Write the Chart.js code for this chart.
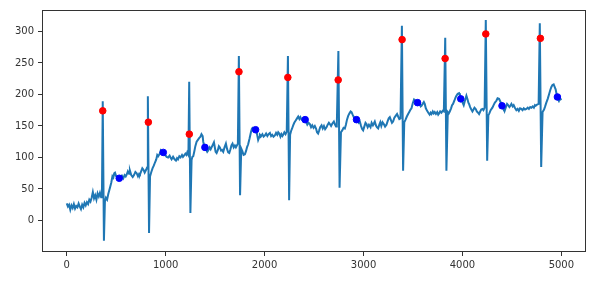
<!DOCTYPE html>
<html lang="en">
<head>
  <meta charset="UTF-8" />
  <title>Signal with peaks</title>
  <script src="https://cdn.jsdelivr.net/npm/chart.js"></script>
  <style>
    body {
      margin: 0;
      background: #fff;
    }
    #chart {
      display: block;
    }
  </style>
</head>
<body>
  <canvas id="chart" width="598" height="285"></canvas>

  <script>
    // signal: [sample index, value]
    const signal = [
      [0, 27], [12, 22], [24, 25], [36, 17], [48, 24], [60, 20], [72, 26], [84, 19], [96, 23], [108, 21],
      [120, 27], [132, 22], [144, 18], [156, 25], [168, 21], [180, 28], [192, 24], [204, 29], [216, 26], [228, 33],
      [240, 30], [252, 36], [264, 45], [276, 35], [288, 40], [300, 33], [312, 43], [324, 38], [336, 44], [348, 37], [356, 42],
      [364, 189], [376, -32], [386, 30], [396, 36], [408, 33], [420, 42], [437, 52], [450, 60], [462, 70], [471, 68],
      [480, 75], [488, 76], [500, 70], [511, 69], [520, 66], [531, 67], [545, 68], [558, 71], [572, 67], [585, 72],
      [596, 70], [606, 73], [618, 78], [630, 74], [639, 79], [652, 72], [667, 69], [680, 72], [694, 77], [707, 75],
      [720, 70], [732, 74], [740, 73], [752, 78], [764, 83], [774, 81], [788, 76], [801, 80], [812, 84],
      [820, 197], [832, -20], [842, 70], [855, 77], [868, 83], [880, 87], [892, 92], [905, 97], [915, 104], [925, 102],
      [940, 106], [950, 111], [959, 109], [968, 107], [976, 108], [990, 104], [1000, 103], [1010, 101], [1025, 100], [1040, 103],
      [1052, 99], [1060, 97], [1075, 101], [1090, 97], [1104, 95], [1115, 99], [1125, 97], [1138, 102], [1150, 100], [1165, 104],
      [1175, 101], [1185, 103], [1200, 106], [1210, 104], [1218, 108], [1230, 104],
      [1238, 220], [1250, 12], [1262, 96], [1270, 101], [1279, 102], [1290, 110], [1300, 118], [1313, 125], [1326, 128], [1340, 131],
      [1352, 133], [1362, 137], [1374, 134], [1380, 125], [1390, 118], [1397, 116], [1410, 112], [1420, 109], [1430, 111], [1445, 116],
      [1455, 113], [1464, 116], [1476, 120], [1488, 124], [1498, 115], [1505, 109], [1515, 107], [1528, 112], [1538, 118], [1548, 116],
      [1560, 111], [1570, 112], [1582, 109], [1595, 116], [1609, 122], [1620, 114], [1632, 108], [1643, 107], [1655, 113], [1665, 119],
      [1676, 122], [1688, 116], [1700, 119], [1710, 116], [1720, 119], [1730, 122],
      [1740, 261], [1752, 40], [1764, 114], [1775, 110], [1788, 104], [1801, 105], [1812, 110], [1822, 116], [1834, 121], [1848, 130],
      [1862, 140], [1872, 146], [1879, 147], [1890, 145], [1900, 142], [1909, 144], [1920, 140], [1935, 128], [1945, 132], [1953, 136],
      [1965, 134], [1978, 137], [1990, 133], [2003, 135], [2015, 138], [2028, 134], [2040, 137], [2054, 139], [2066, 134], [2078, 136],
      [2090, 133], [2104, 135], [2116, 139], [2128, 136], [2138, 140], [2148, 138], [2160, 133], [2170, 137], [2180, 134], [2188, 136],
      [2200, 140], [2212, 137], [2224, 141],
      [2236, 261], [2248, 32], [2258, 136], [2268, 142], [2278, 146], [2289, 151], [2300, 155], [2316, 159], [2328, 162], [2340, 165],
      [2352, 161], [2362, 164], [2375, 160], [2390, 158], [2400, 161], [2410, 160], [2420, 157], [2432, 152], [2445, 155], [2458, 153],
      [2470, 148], [2482, 151], [2495, 147], [2508, 150], [2520, 146], [2530, 140], [2541, 138], [2552, 143], [2562, 148], [2576, 151],
      [2588, 146], [2600, 150], [2612, 145], [2626, 148], [2638, 152], [2650, 155], [2660, 153], [2672, 150], [2685, 154], [2700, 157],
      [2712, 152], [2722, 149], [2730, 151],
      [2746, 269], [2758, 52], [2772, 140], [2785, 143], [2798, 147], [2811, 146], [2822, 152], [2833, 160], [2845, 166], [2858, 170],
      [2870, 173], [2879, 172], [2890, 168], [2902, 164], [2915, 162], [2929, 160], [2940, 158], [2952, 155], [2963, 157], [2975, 150],
      [2986, 145], [2996, 143], [3008, 149], [3020, 155], [3030, 153], [3042, 148], [3055, 152], [3071, 148], [3082, 155], [3095, 151],
      [3105, 154], [3114, 157], [3125, 151], [3135, 148], [3148, 146], [3160, 152], [3170, 156], [3180, 150], [3192, 156], [3205, 153],
      [3218, 149], [3232, 152], [3245, 158], [3255, 162], [3266, 164], [3278, 159], [3288, 155], [3299, 157], [3312, 163], [3325, 166],
      [3339, 169], [3350, 165], [3362, 161], [3374, 162],
      [3388, 309], [3400, 79], [3412, 156], [3425, 160], [3438, 165], [3451, 169], [3465, 173], [3475, 176], [3485, 178], [3498, 186],
      [3511, 192], [3525, 190], [3541, 187], [3555, 184], [3568, 186], [3578, 181], [3586, 182], [3598, 185], [3610, 188], [3619, 185],
      [3630, 178], [3643, 174], [3655, 171], [3668, 168], [3678, 171], [3687, 169], [3700, 173], [3710, 170], [3720, 172], [3732, 169],
      [3745, 172], [3755, 168], [3764, 170], [3775, 173], [3788, 171], [3800, 174], [3812, 173],
      [3826, 290], [3838, 79], [3852, 172], [3862, 170], [3872, 173], [3885, 178], [3895, 183], [3905, 185], [3918, 190], [3930, 195],
      [3939, 198], [3952, 201], [3966, 202], [3975, 198], [3983, 193], [3995, 190], [4005, 186], [4013, 183], [4025, 190], [4040, 198],
      [4052, 192], [4060, 187], [4067, 185], [4078, 180], [4090, 176], [4101, 173], [4112, 176], [4122, 179], [4134, 177], [4145, 173],
      [4158, 171], [4168, 169], [4180, 173], [4190, 176], [4202, 177], [4212, 175], [4224, 179],
      [4236, 318], [4250, 95], [4262, 167], [4272, 170], [4285, 175], [4303, 179], [4315, 183], [4328, 187], [4343, 190], [4355, 194],
      [4370, 193], [4385, 188], [4397, 183], [4410, 178], [4420, 175], [4427, 174], [4440, 180], [4451, 185], [4462, 183], [4475, 180],
      [4485, 182], [4495, 185], [4508, 181], [4518, 183], [4530, 179], [4545, 175], [4558, 177], [4570, 174], [4582, 178], [4596, 177],
      [4608, 175], [4620, 178], [4633, 176], [4646, 177], [4660, 179], [4672, 177], [4685, 180], [4697, 179], [4710, 181], [4722, 179],
      [4733, 183], [4741, 182], [4755, 184], [4770, 185],
      [4782, 313], [4796, 85], [4810, 172], [4825, 176], [4836, 181], [4848, 187], [4862, 193], [4875, 200], [4888, 207], [4899, 212],
      [4910, 215], [4922, 216], [4932, 212], [4942, 208], [4950, 202], [4956, 196], [4965, 193], [4976, 190], [4987, 194], [4999, 191]
    ];

    // red markers (R peaks)
    const peakX = [364, 825, 1239, 1741, 2235, 2744, 3390, 3825, 4236, 4788];
    const peakY = [174, 156, 137, 236, 227, 223, 287, 257, 296, 289];

    // blue markers
    const markX = [531, 976, 1397, 1909, 2410, 2929, 3546, 3983, 4400, 4960];
    const markY = [67, 108, 116, 144, 160, 160, 187, 193, 182, 196];

    const xTicks = [0, 1000, 2000, 3000, 4000, 5000];
    const yTicks = [0, 50, 100, 150, 200, 250, 300];

    const toPoints = (xs, ys) => xs.map((x, i) => ({ x: x, y: ys[i] }));

    // plain box around the plot area, like matplotlib spines
    const frame = {
      id: "frame",
      afterDraw(chart) {
        const a = chart.chartArea;
        const ctx = chart.ctx;
        ctx.save();
        ctx.strokeStyle = "#333";
        ctx.lineWidth = 1;
        ctx.strokeRect(a.left + 0.5, a.top + 0.5, a.right - a.left - 1, a.bottom - a.top - 1);
        ctx.restore();
      }
    };

    const tickFont = { family: "DejaVu Sans", size: 10 };

    new Chart(document.getElementById("chart"), {
      type: "scatter",
      data: {
        datasets: [
          {
            data: signal.map(p => ({ x: p[0], y: p[1] })),
            showLine: true,
            borderColor: "#1f77b4",
            borderWidth: 2,
            pointRadius: 0,
            tension: 0,
            order: 2
          },
          {
            data: toPoints(peakX, peakY),
            backgroundColor: "#ff0000",
            borderColor: "#ff0000",
            pointRadius: 3.3,
            order: 1
          },
          {
            data: toPoints(markX, markY),
            backgroundColor: "#0000ff",
            borderColor: "#0000ff",
            pointRadius: 3.3,
            order: 0
          }
        ]
      },
      options: {
        responsive: false,
        animation: false,
        layout: { padding: { top: 6, right: 12, left: 0, bottom: 0 } },
        plugins: {
          legend: { display: false },
          tooltip: { enabled: false }
        },
        scales: {
          x: {
            type: "linear",
            min: -250,
            max: 5249,
            afterBuildTicks: (s) => { s.ticks = xTicks.map(v => ({ value: v })); },
            afterFit: (s) => { s.height = 33; },
            border: { display: false },
            grid: { drawOnChartArea: false, drawTicks: true, tickLength: 4, color: "#333" },
            ticks: { color: "#333", font: tickFont, padding: 3, maxRotation: 0, callback: (v) => String(v) }
          },
          y: {
            type: "linear",
            min: -50,
            max: 334,
            afterBuildTicks: (s) => { s.ticks = yTicks.map(v => ({ value: v })); },
            afterFit: (s) => { s.width = 42; },
            border: { display: false },
            grid: { drawOnChartArea: false, drawTicks: true, tickLength: 4, color: "#333" },
            ticks: { color: "#333", font: tickFont, padding: 4, callback: (v) => String(v) }
          }
        }
      },
      plugins: [frame]
    });
  </script>
</body>
</html>
